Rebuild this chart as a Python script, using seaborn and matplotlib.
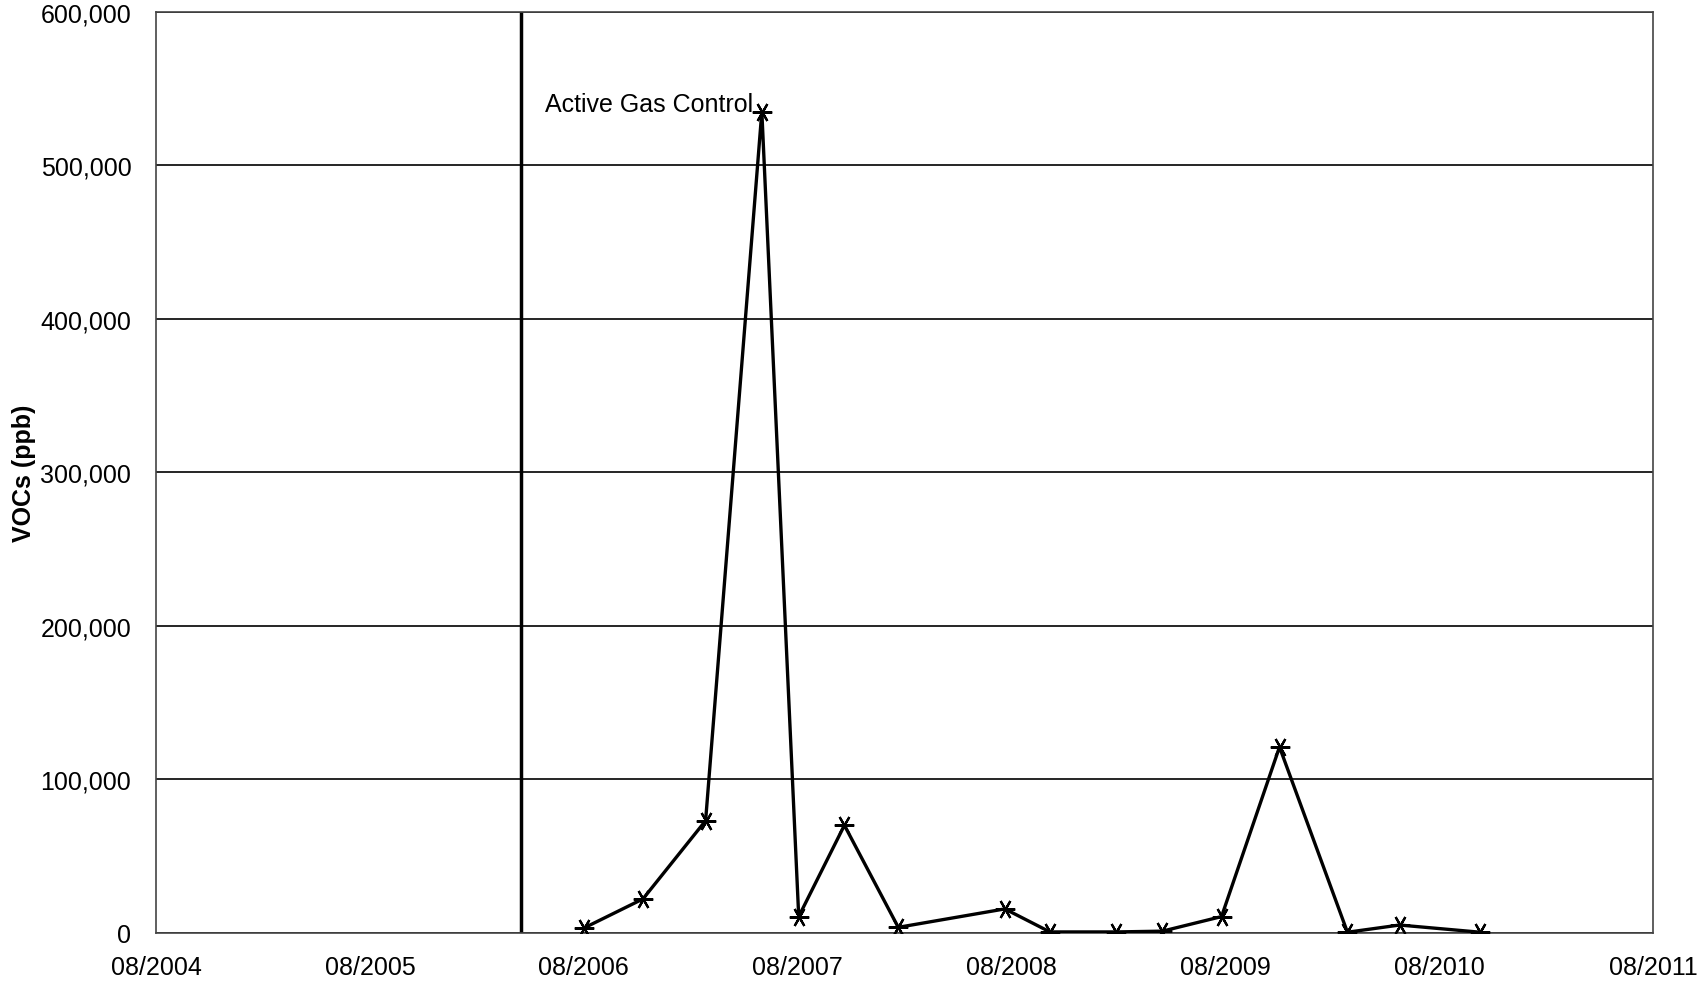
import pandas as pd
import matplotlib.pyplot as plt
import matplotlib.dates as mdates
from matplotlib.ticker import FuncFormatter
import seaborn as sns

sns.set_style("white")
plt.rcParams['font.family'] = ['Liberation Sans', 'DejaVu Sans']
plt.rcParams['font.size'] = 18
plt.rcParams['text.color'] = 'black'
plt.rcParams['xtick.color'] = 'black'
plt.rcParams['ytick.color'] = 'black'
plt.rcParams['axes.labelcolor'] = 'black'

# sampling dates and VOC concentrations (ppb)
dates = ["2006-08-01", "2006-11-10", "2007-02-25", "2007-06-01", "2007-08-03",
         "2007-10-20", "2008-01-20", "2008-07-20", "2008-10-05", "2009-01-25",
         "2009-04-15", "2009-07-25", "2009-11-01", "2010-02-25", "2010-05-25",
         "2010-10-10"]
vocs = [3000, 22000, 73000, 535000, 10500, 70000, 3500, 15500, 500, 500,
        1000, 10500, 121000, 300, 5000, 300]

control_date = "2006-04-15"
control_label = "Active Gas Control"
tick_dates = ["2004-08-01", "2005-08-01", "2006-08-01", "2007-08-01",
              "2008-08-01", "2009-08-01", "2010-08-01", "2011-08-01"]

df = pd.DataFrame({"date": pd.to_datetime(dates), "vocs": vocs})

fig = plt.figure(figsize=(16.99, 9.87), dpi=100)
ax = fig.add_axes([0.092, 0.054, 0.881, 0.933])

ax.axvline(pd.Timestamp(control_date), ymin=0, ymax=1, color='black', lw=2.5, zorder=2)

sns.lineplot(data=df, x="date", y="vocs", ax=ax, color='black', lw=2.4,
             marker=(6, 2, 90), markersize=14, markeredgewidth=1.6,
             markeredgecolor='black', zorder=3)

ax.text(pd.Timestamp("2006-05-27"), 540000, control_label, fontsize=18,
        va='center', ha='left', zorder=4)

ticks = pd.to_datetime(tick_dates)
ax.set_xlim(ticks[0], ticks[-1])
ax.set_xticks(ticks)
ax.xaxis.set_major_formatter(mdates.DateFormatter("%m/%Y"))
ax.set_ylim(0, 600000)
ax.set_yticks(range(0, 600001, 100000))
ax.yaxis.set_major_formatter(FuncFormatter(lambda v, p: f"{int(v):,}"))

ax.yaxis.grid(True, color='black', lw=1.2)
ax.xaxis.grid(False)
for s in ax.spines.values():
    s.set_color('#444444')
    s.set_linewidth(1.2)

ax.tick_params(axis='both', which='major', direction='out', length=6, width=1,
               color='#444444', labelsize=18)
ax.tick_params(axis='x', pad=10)
ax.tick_params(axis='y', pad=12)
ax.set_xlabel("")
ax.set_ylabel("VOCs (ppb)", fontsize=18, fontweight='bold', labelpad=3)

plt.savefig("out.png", dpi=100)
